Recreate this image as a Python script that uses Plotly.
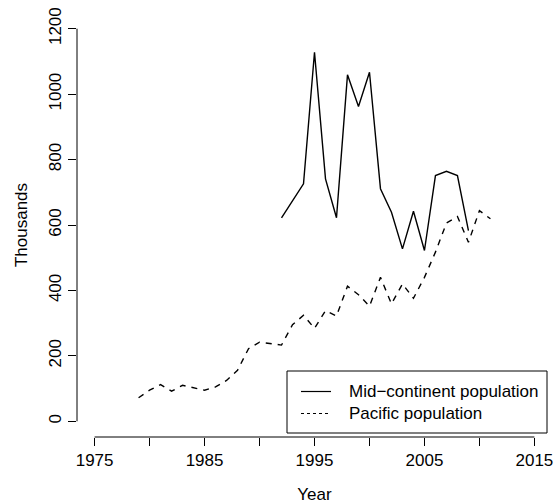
import plotly.graph_objects as go

# Data
mid_years = [1992, 1993, 1994, 1995, 1996, 1997, 1998, 1999, 2000, 2001,
             2002, 2003, 2004, 2005, 2006, 2007, 2008, 2009]
mid_values = [622, 674, 726, 1128, 741, 622, 1059, 962, 1067, 711,
              639, 527, 642, 522, 751, 764, 751, 583]

pac_years = [1979, 1980, 1981, 1982, 1983, 1984, 1985, 1986, 1987, 1988,
             1989, 1990, 1991, 1992, 1993, 1994, 1995, 1996, 1997, 1998,
             1999, 2000, 2001, 2002, 2003, 2004, 2005, 2006, 2007, 2008,
             2009, 2010, 2011]
pac_values = [72, 95, 112, 92, 110, 102, 95, 105, 125, 156,
              222, 242, 237, 233, 295, 324, 284, 338, 322, 413,
              387, 352, 440, 359, 420, 376, 440, 517, 606, 626,
              547, 644, 619]

series_names = ["Mid\u2212continent population", "Pacific population"]

x_ticks = [1975, 1980, 1985, 1990, 1995, 2000, 2005, 2010, 2015]
x_ticktext = ["1975", "", "1985", "", "1995", "", "2005", "", "2015"]
y_ticks = [0, 200, 400, 600, 800, 1000, 1200]

FONT = "Liberation Sans, Arial, Helvetica, sans-serif"
FS = 17
W, H = 556, 504
ML, MR, MT, MB = 77, 4, 13, 67
PW, PH = W - ML - MR, H - MT - MB


def px(xp):
    return (xp - ML) / PW


def py(yp):
    return (H - MB - yp) / PH


fig = go.Figure()
fig.add_trace(go.Scatter(x=mid_years, y=mid_values, mode="lines",
                         name=series_names[0], showlegend=False,
                         line=dict(color="black", width=1.4)))
fig.add_trace(go.Scatter(x=pac_years, y=pac_values, mode="lines",
                         name=series_names[1], showlegend=False,
                         line=dict(color="black", width=1.4, dash="6px,6px")))

# R-style axis lines spanning only the tick range
fig.add_shape(type="line", xref="x", yref="paper", x0=x_ticks[0], x1=x_ticks[-1],
              y0=0, y1=0, line=dict(color="black", width=1))
fig.add_shape(type="line", xref="paper", yref="y", x0=0, x1=0,
              y0=y_ticks[0], y1=y_ticks[-1], line=dict(color="black", width=1))

# Legend box (R style, bottom-right)
fig.add_shape(type="rect", xref="paper", yref="paper",
              x0=px(287), x1=px(547), y0=py(433), y1=py(371),
              line=dict(color="black", width=1), fillcolor="white", layer="above")
row_y = [391.5, 413.5]
dashes = ["solid", "3px,3px"]
for ry, dsh, nm in zip(row_y, dashes, series_names):
    fig.add_shape(type="line", xref="paper", yref="paper",
                  x0=px(301), x1=px(331), y0=py(ry), y1=py(ry),
                  line=dict(color="black", width=1.2, dash=dsh), layer="above")
    fig.add_annotation(xref="paper", yref="paper", x=px(347), y=py(ry),
                       text=nm, showarrow=False, xanchor="left", yanchor="middle",
                       font=dict(family=FONT, size=FS, color="black"))

fig.update_layout(
    width=W, height=H,
    margin=dict(l=ML, r=MR, t=MT, b=MB, autoexpand=False),
    paper_bgcolor="white", plot_bgcolor="white",
    font=dict(family=FONT, size=FS, color="black"),
    showlegend=False,
    xaxis=dict(range=[1973.4, 2016.6], tickvals=x_ticks, ticktext=x_ticktext,
               ticks="outside", ticklen=8, tickcolor="black", tickwidth=1,
               showgrid=False, zeroline=False, showline=False, automargin=False,
               tickfont=dict(family=FONT, size=FS, color="black"),
               title=dict(text="Year", standoff=20,
                          font=dict(family=FONT, size=FS, color="black"))),
    yaxis=dict(range=[-48, 1248], tickvals=y_ticks,
               ticks="outside", ticklen=8, tickcolor="black", tickwidth=1,
               tickangle=-90, ticklabelstandoff=0,
               showgrid=False, zeroline=False, showline=False, automargin=False,
               tickfont=dict(family=FONT, size=FS, color="black"),
               title=dict(text="Thousands", standoff=14,
                          font=dict(family=FONT, size=FS, color="black"))),
)

fig.write_html(
    "out.html",
    config={"displayModeBar": False},
    post_script="document.body.style.margin='0px';"
                "document.body.style.padding='0px';"
                "document.body.style.overflow='hidden';",
)
